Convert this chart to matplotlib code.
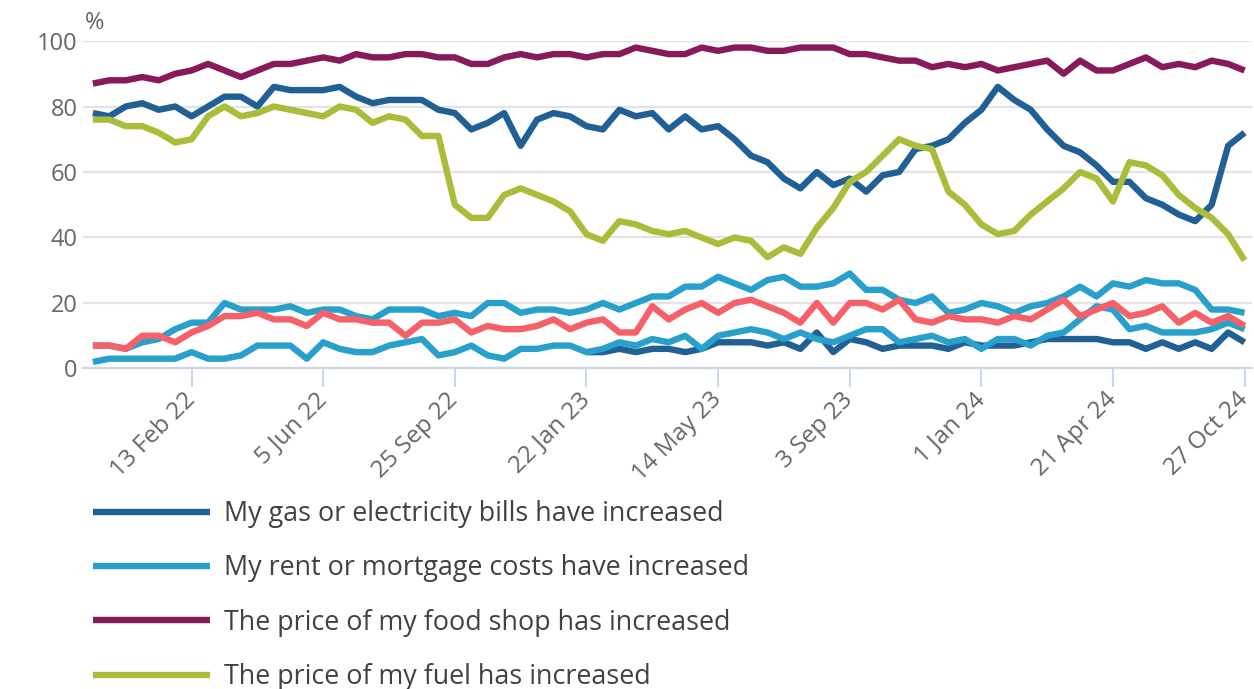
import matplotlib
matplotlib.use('Agg')
import matplotlib.pyplot as plt
import numpy as np

plt.rcParams['font.family'] = ['Open Sans', 'DejaVu Sans']

# Survey waves are plotted as equally spaced categories; only every 8th wave is labelled
tick_pos = [6, 14, 22, 30, 38, 46, 54, 62, 70]
tick_labels = ['13 Feb 22', '5 Jun 22', '25 Sep 22', '22 Jan 23', '14 May 23',
               '3 Sep 23', '1 Jan 24', '21 Apr 24', '27 Oct 24']

# % of adults reporting each cost has increased
gas = [78, 77, 80, 81, 79, 80, 77, 80, 83, 83,
       80, 86, 85, 85, 85, 86, 83, 81, 82, 82,
       82, 79, 78, 73, 75, 78, 68, 76, 78, 77,
       74, 73, 79, 77, 78, 73, 77, 73, 74, 70,
       65, 63, 58, 55, 60, 56, 58, 54, 59, 60,
       67, 68, 70, 75, 79, 86, 82, 79, 73, 68,
       66, 62, 57, 57, 52, 50, 47, 45, 50, 68,
       72]
rent = [7, 7, 6, 8, 9, 12, 14, 14, 20, 18,
        18, 18, 19, 17, 18, 18, 16, 15, 18, 18,
        18, 16, 17, 16, 20, 20, 17, 18, 18, 17,
        18, 20, 18, 20, 22, 22, 25, 25, 28, 26,
        24, 27, 28, 25, 25, 26, 29, 24, 24, 21,
        20, 22, 17, 18, 20, 19, 17, 19, 20, 22,
        25, 22, 26, 25, 27, 26, 26, 24, 18, 18,
        17]
food = [87, 88, 88, 89, 88, 90, 91, 93, 91, 89,
        91, 93, 93, 94, 95, 94, 96, 95, 95, 96,
        96, 95, 95, 93, 93, 95, 96, 95, 96, 96,
        95, 96, 96, 98, 97, 96, 96, 98, 97, 98,
        98, 97, 97, 98, 98, 98, 96, 96, 95, 94,
        94, 92, 93, 92, 93, 91, 92, 93, 94, 90,
        94, 91, 91, 93, 95, 92, 93, 92, 94, 93,
        91]
fuel = [76, 76, 74, 74, 72, 69, 70, 77, 80, 77,
        78, 80, 79, 78, 77, 80, 79, 75, 77, 76,
        71, 71, 50, 46, 46, 53, 55, 53, 51, 48,
        41, 39, 45, 44, 42, 41, 42, 40, 38, 40,
        39, 34, 37, 35, 43, 49, 57, 60, 65, 70,
        68, 67, 54, 50, 44, 41, 42, 47, 51, 55,
        60, 58, 51, 63, 62, 59, 53, 49, 46, 41,
        33]
# series whose legend entries fall below the visible area
red_series = [7, 7, 6, 10, 10, 8, 11, 13, 16, 16,
              17, 15, 15, 13, 17, 15, 15, 14, 14, 10,
              14, 14, 15, 11, 13, 12, 12, 13, 15, 12,
              14, 15, 11, 11, 19, 15, 18, 20, 17, 20,
              21, 19, 17, 14, 20, 14, 20, 20, 18, 21,
              15, 14, 16, 15, 15, 14, 16, 15, 18, 21,
              16, 18, 20, 16, 17, 19, 14, 17, 14, 16,
              13]
blue_low = [2, 3, 3, 3, 3, 3, 5, 3, 3, 4,
            7, 7, 7, 3, 8, 6, 5, 5, 7, 8,
            9, 4, 5, 7, 4, 3, 6, 6, 7, 7,
            5, 6, 8, 7, 9, 8, 10, 6, 10, 11,
            12, 11, 9, 11, 9, 8, 10, 12, 12, 8,
            9, 10, 8, 9, 6, 9, 9, 7, 10, 11,
            15, 19, 18, 12, 13, 11, 11, 11, 12, 14,
            12]
# this question only starts at the 22 Jan 23 wave
navy_low = [None] * 30 + [5, 5, 6, 5, 6, 6, 5, 6, 8, 8,
                          8, 7, 8, 6, 11, 5, 9, 8, 6, 7,
                          7, 7, 6, 8, 7, 7, 7, 8, 9, 9,
                          9, 9, 8, 8, 6, 8, 6, 8, 6, 11,
                          8]

labels = ['My gas or electricity bills have increased',
          'My rent or mortgage costs have increased',
          'The price of my food shop has increased',
          'The price of my fuel has increased']

x = np.arange(len(food))
navy_arr = np.array(navy_low, dtype=float)

W, H = 1254, 689
fig = plt.figure(figsize=(W / 100, H / 100), dpi=100)
ax = fig.add_axes([83 / W, 1 - 368.5 / H, (1252 - 83) / W, (368.5 - 41) / H])

lw = 4.6
kw = dict(lw=lw, solid_capstyle='butt')
ax.plot(x, navy_arr, color='#206095', zorder=2, **kw)
ax.plot(x, blue_low, color='#27A0CC', zorder=3, **kw)
l_rent, = ax.plot(x, rent, color='#27A0CC', zorder=4, **kw)
ax.plot(x, red_series, color='#F66068', zorder=5, **kw)
l_gas, = ax.plot(x, gas, color='#206095', zorder=6, **kw)
l_food, = ax.plot(x, food, color='#871A5B', zorder=7, **kw)
l_fuel, = ax.plot(x, fuel, color='#A8BD3A', zorder=8, **kw)

ax.set_xlim(-0.6, 70.45)
ax.set_ylim(0, 100)
ax.set_yticks([0, 20, 40, 60, 80, 100])
ax.yaxis.grid(True, color='#e3e3e3', lw=1.6)
ax.set_axisbelow(True)

for s in ['top', 'right', 'left']:
    ax.spines[s].set_visible(False)
ax.spines['bottom'].set_color('#ccd6eb')
ax.spines['bottom'].set_linewidth(1.6)
ax.spines['bottom'].set_zorder(1)

ax.set_xticks(tick_pos, tick_labels)
ax.tick_params(axis='x', length=14, width=1.5, color='#ccd6eb',
               labelcolor='#666666', labelsize=17.5, pad=6)
ax.tick_params(axis='y', length=0, labelcolor='#666666', labelsize=17, pad=4)
for lab in ax.get_xticklabels():
    lab.set_rotation(45)
    lab.set_ha('right')
    lab.set_va('center')
    lab.set_rotation_mode('anchor')

fig.text(85 / W, 1 - 23 / H, '%', fontsize=17, color='#666666',
         ha='left', va='center')

fig.legend([l_gas, l_rent, l_food, l_fuel], labels,
           loc='upper left', bbox_to_anchor=(93 / W, 1 - 500 / H),
           frameon=False, fontsize=19.4, handlelength=4.35, handletextpad=0.52,
           labelspacing=0.98, borderpad=0, borderaxespad=0,
           labelcolor='#414042')

fig.savefig('out.png', dpi=100)
